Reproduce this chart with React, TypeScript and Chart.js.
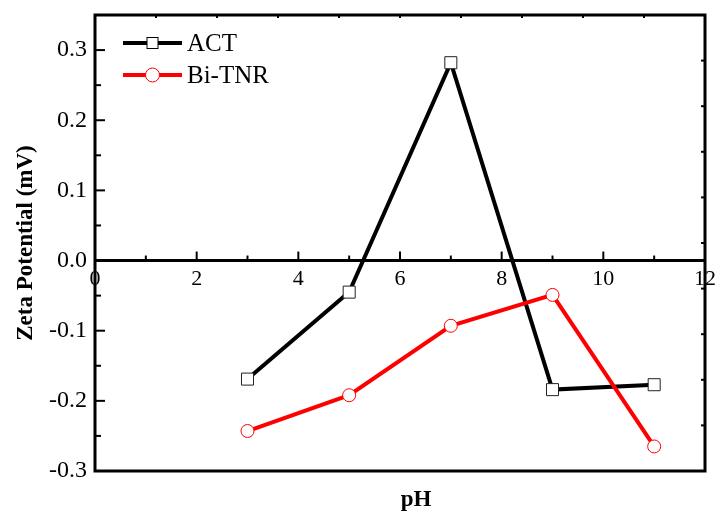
import React, { useEffect, useRef } from "react";
import { Chart, registerables } from "chart.js";
Chart.register(...registerables);

const PH = [3, 5, 7, 9, 11];
const ACT = [-0.169, -0.045, 0.282, -0.184, -0.177];
const BI_TNR = [-0.243, -0.192, -0.093, -0.049, -0.265];
const X_TICKS = [0, 2, 4, 6, 8, 10, 12];
const Y_TICKS = [-0.3, -0.2, -0.1, 0, 0.1, 0.2, 0.3];
const SERIES_NAMES = ["ACT", "Bi-TNR"];
const SERIES_COLORS = ["#000000", "#ff0000"];
const X_TITLE = "pH";
const Y_TITLE = "Zeta Potential (mV)";

const FONT = '"Liberation Serif", "Times New Roman", serif';

function seg(ctx: CanvasRenderingContext2D, x1: number, y1: number, x2: number, y2: number) {
  ctx.beginPath();
  ctx.moveTo(x1, y1);
  ctx.lineTo(x2, y2);
  ctx.stroke();
}

const framePlugin = {
  id: "frame",
  beforeDatasetsDraw(chart: any) {
    const { ctx, chartArea: a, scales } = chart;
    const xs = scales.x;
    const ys = scales.y;
    ctx.save();
    ctx.strokeStyle = "#000";
    ctx.lineCap = "butt";
    ctx.lineWidth = 3;
    ctx.strokeRect(a.left, a.top, a.right - a.left, a.bottom - a.top);
    const y0 = ys.getPixelForValue(0);
    seg(ctx, a.left, y0, a.right, y0);
    ctx.lineWidth = 2;
    for (let i = 0; i < X_TICKS.length; i++) {
      const px = xs.getPixelForValue(X_TICKS[i]);
      seg(ctx, px, y0, px, y0 - 9);
      if (i < X_TICKS.length - 1) {
        const m = xs.getPixelForValue((X_TICKS[i] + X_TICKS[i + 1]) / 2);
        seg(ctx, m, y0, m, y0 - 5);
      }
    }
    for (let i = 0; i < Y_TICKS.length; i++) {
      const py = ys.getPixelForValue(Y_TICKS[i]);
      seg(ctx, a.left, py, a.left + 10, py);
      if (i < Y_TICKS.length - 1) {
        const m = ys.getPixelForValue((Y_TICKS[i] + Y_TICKS[i + 1]) / 2);
        seg(ctx, a.left, m, a.left + 6, m);
      }
    }
    const w = a.right - a.left;
    const h = a.bottom - a.top;
    for (let k = 1; k < 10; k++) {
      seg(ctx, a.right, a.top + (k * h) / 10, a.right - 4, a.top + (k * h) / 10);
      seg(ctx, a.left + (k * w) / 10, a.top, a.left + (k * w) / 10, a.top + 3);
    }
    ctx.restore();
  },
  afterDatasetsDraw(chart: any) {
    const { ctx, chartArea: a } = chart;
    ctx.save();
    // legend
    for (let i = 0; i < SERIES_NAMES.length; i++) {
      const y = a.top + 28 + i * 32;
      const x1 = a.left + 28;
      const x2 = a.left + 87;
      const cx = (x1 + x2) / 2;
      ctx.strokeStyle = SERIES_COLORS[i];
      ctx.lineWidth = 4;
      seg(ctx, x1, y, x2, y);
      ctx.fillStyle = "#fff";
      ctx.lineWidth = 1;
      ctx.strokeStyle = SERIES_COLORS[i];
      if (i === 0) {
        ctx.fillRect(cx - 5.5, y - 5.5, 11, 11);
        ctx.strokeRect(cx - 5.5, y - 5.5, 11, 11);
      } else {
        ctx.beginPath();
        ctx.arc(cx, y, 7, 0, Math.PI * 2);
        ctx.fill();
        ctx.stroke();
      }
      ctx.fillStyle = "#000";
      ctx.font = `25px ${FONT}`;
      ctx.textAlign = "left";
      ctx.textBaseline = "middle";
      ctx.fillText(SERIES_NAMES[i], a.left + 92, y + 1);
    }
    // titles
    ctx.fillStyle = "#000";
    ctx.font = `bold 23px ${FONT}`;
    ctx.textAlign = "center";
    ctx.textBaseline = "middle";
    ctx.fillText(X_TITLE, (a.left + a.right) / 2 + 16, a.bottom + 29);
    ctx.translate(26, (a.top + a.bottom) / 2);
    ctx.rotate(-Math.PI / 2);
    ctx.fillText(Y_TITLE, 0, 0);
    ctx.restore();
  },
};

export default function App() {
  const ref = useRef<HTMLCanvasElement | null>(null);
  useEffect(() => {
    document.body.style.margin = "0";
    const canvas = ref.current;
    if (!canvas) return;
    const chart = new Chart(canvas, {
      type: "line",
      data: {
        datasets: [
          {
            label: SERIES_NAMES[0],
            data: PH.map((x, i) => ({ x, y: ACT[i] })),
            borderColor: SERIES_COLORS[0],
            borderWidth: 4,
            pointStyle: "rect",
            pointRadius: 8.5,
            pointBackgroundColor: "#fff",
            pointBorderColor: "#222",
            pointBorderWidth: 1,
            order: 2,
          },
          {
            label: SERIES_NAMES[1],
            data: PH.map((x, i) => ({ x, y: BI_TNR[i] })),
            borderColor: SERIES_COLORS[1],
            borderWidth: 4,
            pointStyle: "circle",
            pointRadius: 6.5,
            pointBackgroundColor: "#fff",
            pointBorderColor: SERIES_COLORS[1],
            pointBorderWidth: 1,
            order: 1,
          },
        ],
      },
      options: {
        responsive: false,
        animation: false,
        events: [],
        devicePixelRatio: 1,
        layout: { padding: { left: 0, right: 15, top: 15, bottom: 47 } },
        plugins: { legend: { display: false }, tooltip: { enabled: false } },
        scales: {
          x: {
            type: "linear",
            min: 0,
            max: 12,
            position: { y: 0 },
            grid: { display: false, drawTicks: false },
            border: { display: false },
            afterBuildTicks: (s: any) => {
              s.ticks = X_TICKS.map((v) => ({ value: v }));
            },
            afterFit: (s: any) => {
              s.paddingLeft = 0;
              s.paddingRight = 0;
            },
            ticks: {
              color: "#000",
              padding: 5,
              maxRotation: 0,
              font: { family: FONT, size: 22 },
              callback: (v: any) => String(v),
            },
          },
          y: {
            type: "linear",
            min: -0.3,
            max: 0.35,
            position: "left",
            grid: { display: false, drawTicks: false },
            border: { display: false },
            afterBuildTicks: (s: any) => {
              s.ticks = Y_TICKS.map((v) => ({ value: v }));
            },
            afterFit: (s: any) => {
              s.width = 95;
              s.paddingTop = 0;
              s.paddingBottom = 0;
            },
            ticks: {
              color: "#000",
              padding: 8,
              font: { family: FONT, size: 24 },
              callback: (v: any) => Number(v).toFixed(1),
            },
          },
        },
      },
      plugins: [framePlugin],
    } as any);
    return () => chart.destroy();
  }, []);
  return (
    <div style={{ position: "relative", width: 720, height: 518 }}>
      <canvas ref={ref} width={720} height={518} style={{ display: "block" }} />
    </div>
  );
}
